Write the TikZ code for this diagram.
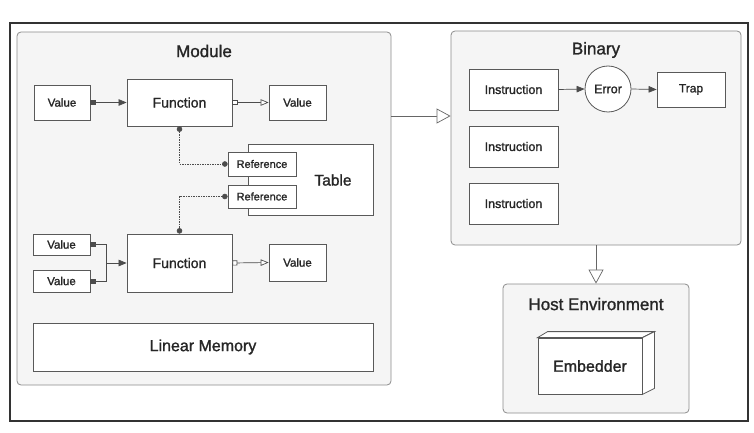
\documentclass[tikz,border=0pt]{standalone}
\usepackage{fontspec}
\setmainfont{Liberation Sans}[FakeBold=1.3]
\usetikzlibrary{arrows.meta,calc}
\newcommand\fsz[1]{\fontsize{#1}{#1}\selectfont}
\begin{document}
\begin{tikzpicture}[x=1pt,y=-1pt,
  container/.style={draw=black!45, fill=black!4, rounded corners=4pt, line width=0.8pt, inner sep=0pt},
  box/.style={draw=black!65, fill=white, line width=0.8pt, inner sep=0pt, text=black!85},
  title/.style={text=black!85, inner sep=0pt},
  conn/.style={draw=black!70, line width=0.7pt},
  dots/.style={conn, dash pattern=on 1.5pt off 1pt},
  tailsq/.tip={Square[length=5pt,width=5pt]},
  tailosq/.tip={Square[length=5pt,width=5pt,fill=white]},
  headf/.tip={Triangle[length=8pt,width=6.5pt]},
  heado/.tip={Triangle[length=8pt,width=6.5pt,fill=white]},
  bigo/.tip={Triangle[length=14pt,width=15pt,fill=white]},
  dot/.tip={Circle[length=5.5pt]}
]
\useasboundingbox (0,0) rectangle (754,433);
\draw[line width=1.4pt, black!80] (10,23) rectangle (748,421);

% containers
\node[container, minimum width=374pt, minimum height=353pt] (module) at (204,208.5) {};
\node[title, font=\fsz{17}] (moduletitle) at (204,51) {Module};
\node[container, minimum width=290pt, minimum height=214pt] (binary) at (596,138) {};
\node[title, font=\fsz{17}] (binarytitle) at (596,50) {Binary};
\node[container, minimum width=186pt, minimum height=129pt] (host) at (596,348.5) {};
\node[title, font=\fsz{17}] (hosttitle) at (596,304) {Host Environment};

% module content
\node[box, minimum width=56pt, minimum height=35pt, font=\fsz{11.5}] (v1) at (62,102.5) {Value};
\node[box, minimum width=105pt, minimum height=47pt, font=\fsz{14}] (f1) at (179.5,102.5) {Function};
\node[box, minimum width=57pt, minimum height=35pt, font=\fsz{11.5}] (v1r) at (297.5,102.5) {Value};

\node[box, minimum width=125pt, minimum height=71pt] (table) at (310.5,179.5) {};
\node[title, font=\fsz{15.5}] (tabletext) at (333,180) {Table};
\node[box, minimum width=68pt, minimum height=24pt, font=\fsz{11}] (r1) at (262,164) {Reference};
\node[box, minimum width=68pt, minimum height=23pt, font=\fsz{11}] (r2) at (262,196.5) {Reference};

\node[box, minimum width=57pt, minimum height=21pt, font=\fsz{11.5}] (va) at (61.5,244.5) {Value};
\node[box, minimum width=57pt, minimum height=22pt, font=\fsz{11.5}] (vb) at (61.5,281) {Value};
\node[box, minimum width=105pt, minimum height=58pt, font=\fsz{14}] (f2) at (179.5,263) {Function};
\node[box, minimum width=57pt, minimum height=37pt, font=\fsz{11.5}] (v2r) at (297.5,262.5) {Value};

\node[box, minimum width=340pt, minimum height=48pt, font=\fsz{16}] (linmem) at (203,347) {Linear Memory};

% binary content
\node[box, minimum width=89pt, minimum height=41pt, font=\fsz{12.5}] (i1) at (513.5,89.5) {Instruction};
\node[box, minimum width=89pt, minimum height=41pt, font=\fsz{12.5}] (i2) at (513.5,146.5) {Instruction};
\node[box, minimum width=89pt, minimum height=41pt, font=\fsz{12.5}] (i3) at (513.5,203.5) {Instruction};
\node[box, circle, minimum size=46pt, font=\fsz{12.5}] (err) at (608,89) {Error};
\node[box, minimum width=68pt, minimum height=35pt, font=\fsz{12}] (trap) at (691,89.5) {Trap};

% embedder
\node[box, minimum width=104pt, minimum height=56pt, font=\fsz{16}] (emb) at (590,366) {Embedder};
\draw[box] (emb.north west) -- ++(10,-6) -- ($(emb.north east)+(12,-6)$) -- (emb.north east) -- cycle;
\draw[box] (emb.north east) -- ($(emb.north east)+(12,-6)$) -- ($(emb.south east)+(12,-6)$) -- (emb.south east) -- cycle;

% connectors
\draw[conn, tailsq-headf] (v1.east) -- (f1.west);
\draw[conn, tailosq-heado] (f1.east) -- (v1r.west);
\draw[dots, dot-dot] (f1.south) |- (r1.west);
\draw[dots, dot-dot] (r2.west) -| (f2.north);
\coordinate (j) at ($(f2.west)+(-20,0)$);
\draw[conn, tailsq-] (va.east) -| (j);
\draw[conn, tailsq-] (vb.east) -| (j);
\draw[conn, -headf] (j) -- (f2.west);
\draw[conn, tailosq-heado] (f2.east) -- (v2r.west);

\draw[conn, -headf] (i1.east) -- (err.west);
\draw[conn, -headf] (err.east) -- (trap.west);

\coordinate (mb) at (391,116);
\draw[conn, black!60, -bigo] (mb) -- (mb -| binary.west);
\draw[conn, black!60, -bigo] (binary.south) -- (host.north);
\end{tikzpicture}
\end{document}
